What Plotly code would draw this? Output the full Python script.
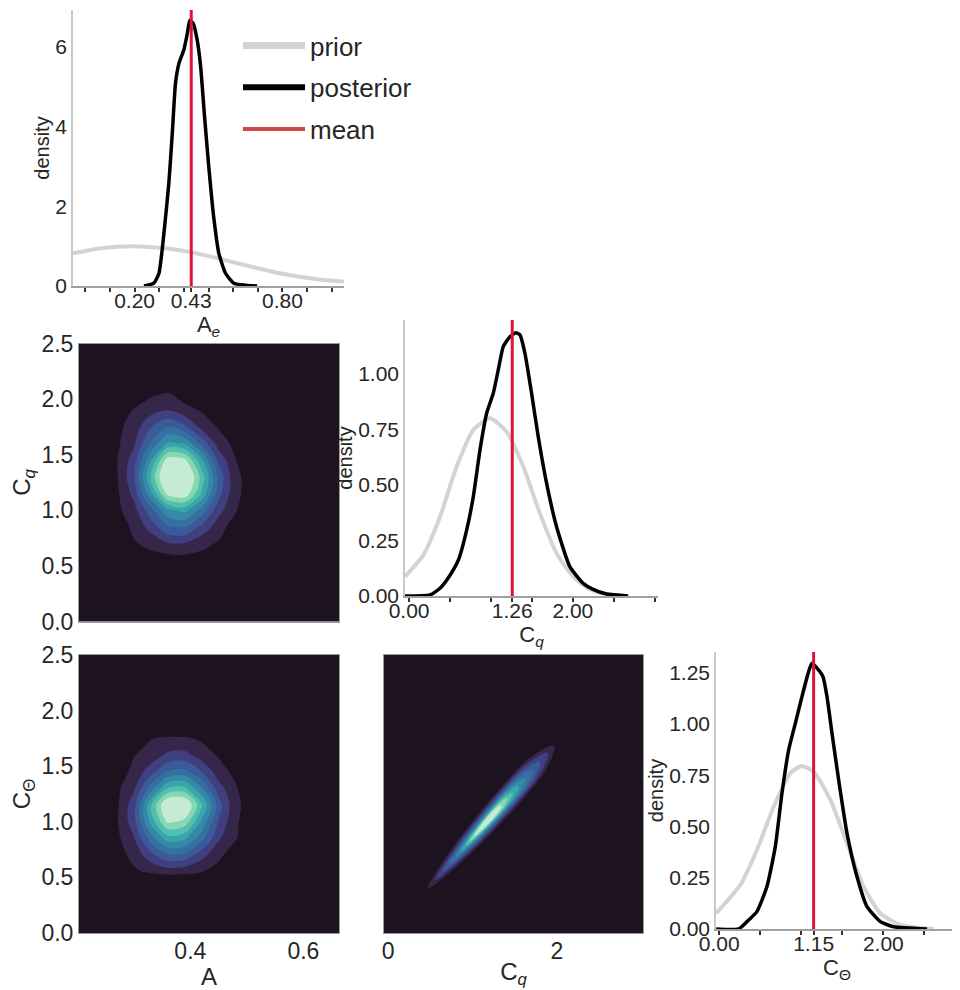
import plotly.graph_objects as go

# ---------------- data ----------------
# A_e marginal
ae_post_x = [0.238, 0.278, 0.299, 0.319, 0.339, 0.353, 0.366, 0.380, 0.400, 0.414, 0.424, 0.438,
             0.454, 0.468, 0.484, 0.501, 0.521, 0.542, 0.569, 0.603, 0.697]
ae_post_y = [0.0, 0.07, 0.32, 1.32, 2.58, 3.83, 5.09, 5.59, 5.93, 6.34, 6.67, 6.59,
             6.18, 5.51, 4.25, 3.00, 1.74, 0.82, 0.32, 0.07, 0.0]
ae_prior_x = [-0.05, 0.062, 0.197, 0.333, 0.427, 0.535, 0.670, 0.805, 0.941, 1.05]
ae_prior_y = [0.82, 0.95, 1.00, 0.94, 0.85, 0.70, 0.49, 0.30, 0.17, 0.11]
ae_mean = 0.43

# C_q marginal
cq_post_x = [-0.05, 0.256, 0.378, 0.488, 0.602, 0.703, 0.784, 0.866, 0.947, 1.028, 1.089, 1.150,
             1.232, 1.305, 1.354, 1.415, 1.496, 1.577, 1.679, 1.801, 1.963, 2.126, 2.248, 2.411, 2.675]
cq_post_y = [0.0, 0.005, 0.035, 0.087, 0.162, 0.297, 0.447, 0.658, 0.823, 0.913, 1.018, 1.123,
             1.168, 1.186, 1.176, 1.093, 0.913, 0.718, 0.508, 0.312, 0.132, 0.057, 0.030, 0.009, 0.0]
cq_prior_x = [-0.05, 0.175, 0.378, 0.581, 0.784, 0.988, 1.191, 1.394, 1.598, 1.801, 2.004, 2.207, 2.411, 2.675]
cq_prior_y = [0.087, 0.185, 0.357, 0.583, 0.748, 0.80, 0.740, 0.583, 0.372, 0.192, 0.087, 0.030, 0.008, 0.0]
cq_mean = 1.26

# C_Theta marginal
ct_post_x = [-0.037, 0.236, 0.337, 0.459, 0.581, 0.683, 0.764, 0.846, 0.927, 1.008, 1.089, 1.130,
             1.191, 1.264, 1.313, 1.374, 1.455, 1.557, 1.679, 1.801, 1.963, 2.126, 2.533]
ct_post_y = [0.0, 0.0, 0.036, 0.085, 0.207, 0.402, 0.662, 0.874, 1.004, 1.134, 1.256, 1.297,
             1.273, 1.232, 1.134, 0.955, 0.728, 0.467, 0.255, 0.109, 0.036, 0.011, 0.0]
ct_prior_x = [-0.037, 0.256, 0.459, 0.663, 0.866, 1.0, 1.150, 1.354, 1.557, 1.760, 1.963, 2.207, 2.614]
ct_prior_y = [0.077, 0.215, 0.386, 0.597, 0.760, 0.796, 0.768, 0.630, 0.418, 0.207, 0.077, 0.02, 0.0]
ct_mean = 1.15

# tick labels
ae_tickvals = [0.2, 0.43, 0.8]
ae_ticktext = ["0.20", "0.43", "0.80"]
cq_tickvals = [0.0, 1.26, 2.0]
cq_ticktext = ["0.00", "1.26", "2.00"]
ct_tickvals = [0.0, 1.15, 2.0]
ct_ticktext = ["0.00", "1.15", "2.00"]
box_ytickvals = [0.0, 0.5, 1.0, 1.5, 2.0, 2.5]
box_yticktext = ["0.0", "0.5", "1.0", "1.5", "2.0", "2.5"]

# 2D density level estimates (A vs C_q), rows follow y
kde_a_x = [0.24, 0.27, 0.30, 0.33, 0.36, 0.39, 0.42, 0.45, 0.48, 0.51, 0.54]
kde_cq_y = [0.40, 0.55, 0.70, 0.85, 1.00, 1.15, 1.30, 1.45, 1.60, 1.75, 1.90, 2.05, 2.20]
kde_a_cq = [
    [-4.0, -3.0, -2.0, -1.5, -1.2, -1.1, -1.2, -1.6, -2.5, -3.5, -5.0],
    [-2.5, -1.2, 0.0, 0.6, 0.45, 0.55, 0.65, 0.2, -0.8, -2.0, -3.5],
    [-2.0, -0.5, 0.9, 1.25, 1.9, 1.9, 1.25, 0.9, -0.5, -2.0, -3.5],
    [-0.7, 0.3, 1.25, 2.4, 3.85, 4.05, 2.75, 1.45, 0.5, -0.6, -1.6],
    [-0.1, 0.75, 1.6, 3.65, 5.8, 6.3, 4.6, 2.35, 1.1, 0.0, -1.2],
    [-0.7, 0.8, 2.3, 5.8, 9.4, 9.8, 6.9, 3.4, 1.2, 0.6, 0.1],
    [-1.0, 0.9, 2.8, 7.1, 10.8, 10.8, 7.6, 3.7, 1.2, 0.6, -0.1],
    [-0.6, 0.95, 2.5, 5.9, 9.6, 9.3, 6.2, 2.75, 1.05, -0.5, -2.2],
    [-0.25, 0.8, 1.85, 4.15, 6.2, 5.9, 3.7, 1.55, 0.7, -0.15, -1.0],
    [-0.3, 0.75, 1.4, 2.95, 4.0, 3.25, 1.7, 0.9, -0.2, -1.2, -2.2],
    [0.0, 0.5, 1.07, 1.6, 2.0, 1.35, 0.9, 0.45, -0.2, -1.0, -2.0],
    [-1.5, -0.5, 0.3, 0.8, 1.1, 0.5, -0.2, -0.8, -1.5, -2.5, -3.5],
    [-3.5, -2.5, -1.8, -1.2, -1.0, -1.2, -1.8, -2.5, -3.5, -4.5, -5.5],
]

# 2D density level estimates (A vs C_Theta)
kde_ct_y = [0.25, 0.40, 0.55, 0.70, 0.85, 1.00, 1.15, 1.30, 1.45, 1.60, 1.75, 1.90, 2.05]
kde_a_ct = [
    [-5.0, -4.5, -4.0, -3.5, -3.0, -3.0, -3.5, -4.0, -4.5, -5.0, -6.0],
    [-3.0, -2.2, -1.6, -1.2, -1.0, -1.0, -1.2, -1.6, -2.2, -3.0, -4.0],
    [-0.6, 0.2, 0.85, 1.15, 1.4, 1.3, 1.03, 0.6, -0.2, -1.0, -2.0],
    [-0.5, 0.55, 1.3, 2.65, 3.85, 3.7, 2.35, 1.25, 0.4, -0.6, -1.6],
    [-0.4, 0.75, 1.9, 4.5, 6.5, 6.2, 4.35, 2.15, 1.1, 0.05, -1.1],
    [-0.8, 0.9, 2.6, 6.3, 9.2, 8.7, 5.8, 2.9, 1.1, 0.6, -0.2],
    [-1.0, 0.8, 2.6, 6.9, 10.4, 10.3, 7.2, 3.5, 1.2, 0.6, 0.0],
    [-0.35, 0.75, 1.85, 4.5, 7.1, 7.3, 5.1, 2.45, 1.15, -0.1, -1.5],
    [-0.6, 0.35, 1.3, 2.55, 4.1, 4.35, 3.0, 1.45, 0.7, -0.3, -1.5],
    [-0.4, 0.4, 0.95, 1.4, 2.2, 2.3, 1.5, 0.9, 0.3, -0.5, -1.5],
    [-0.8, 0.0, 0.5, 0.95, 1.2, 1.15, 0.85, 0.5, 0.0, -0.8, -1.8],
    [-2.0, -1.5, -1.2, -1.0, -0.8, -0.8, -1.0, -1.3, -1.8, -2.5, -3.5],
    [-4.0, -3.5, -3.0, -2.7, -2.5, -2.5, -2.7, -3.0, -3.5, -4.2, -5.0],
]

# C_q vs C_Theta density level outlines (outer -> inner)
cq_ct_level_x = [
    [0.473, 0.835, 1.242, 1.623, 1.870, 1.964, 1.700, 1.411, 1.046, 0.707, 0.473],
    [0.563, 0.881, 1.241, 1.580, 1.801, 1.890, 1.659, 1.403, 1.078, 0.775, 0.563],
    [0.652, 0.927, 1.238, 1.531, 1.722, 1.800, 1.602, 1.381, 1.100, 0.836, 0.652],
    [0.727, 0.962, 1.228, 1.479, 1.643, 1.711, 1.542, 1.352, 1.111, 0.885, 0.727],
    [0.801, 0.997, 1.219, 1.428, 1.565, 1.621, 1.480, 1.322, 1.121, 0.933, 0.801],
    [0.861, 1.024, 1.210, 1.385, 1.500, 1.547, 1.429, 1.297, 1.129, 0.971, 0.861],
    [0.920, 1.052, 1.201, 1.342, 1.434, 1.472, 1.378, 1.271, 1.136, 1.009, 0.920],
    [0.965, 1.072, 1.192, 1.306, 1.381, 1.412, 1.336, 1.250, 1.140, 1.038, 0.965],
    [1.025, 1.100, 1.185, 1.265, 1.317, 1.338, 1.283, 1.223, 1.146, 1.075, 1.025],
]
cq_ct_level_y = [
    [0.405, 0.617, 0.914, 1.228, 1.472, 1.682, 1.586, 1.371, 1.046, 0.703, 0.405],
    [0.482, 0.673, 0.938, 1.218, 1.434, 1.618, 1.529, 1.337, 1.048, 0.745, 0.482],
    [0.558, 0.725, 0.954, 1.196, 1.383, 1.542, 1.464, 1.297, 1.047, 0.785, 0.558],
    [0.622, 0.765, 0.962, 1.169, 1.330, 1.465, 1.398, 1.255, 1.041, 0.816, 0.622],
    [0.686, 0.805, 0.969, 1.142, 1.275, 1.388, 1.333, 1.213, 1.035, 0.848, 0.686],
    [0.737, 0.837, 0.974, 1.118, 1.230, 1.324, 1.278, 1.178, 1.029, 0.872, 0.737],
    [0.788, 0.868, 0.979, 1.095, 1.185, 1.261, 1.223, 1.143, 1.023, 0.897, 0.788],
    [0.826, 0.892, 0.981, 1.076, 1.148, 1.210, 1.179, 1.114, 1.016, 0.914, 0.826],
    [0.878, 0.923, 0.985, 1.051, 1.102, 1.146, 1.125, 1.080, 1.011, 0.940, 0.878],
]

# ---------------- styling ----------------
band_colors = ["#1d1320", "#35264a", "#403f80", "#3a5a9a", "#3571a0",
               "#348aa6", "#3aa5aa", "#53c0ae", "#87d8b2", "#c6ebd4"]
PRIOR_C = "#d3d3d3"
POST_C = "#000000"
MEAN_C = "#dc143c"
FONT = "Liberation Sans, Arial, sans-serif"
TXT = "#262626"

fig = go.Figure()

def diag(xa, ya, px, py, qx, qy):
    fig.add_trace(go.Scatter(x=qx, y=qy, mode="lines", xaxis=xa, yaxis=ya, showlegend=False,
                             line=dict(color=PRIOR_C, width=4, shape="spline", smoothing=0.6),
                             hoverinfo="skip"))
    fig.add_trace(go.Scatter(x=px, y=py, mode="lines", xaxis=xa, yaxis=ya, showlegend=False,
                             line=dict(color=POST_C, width=3.5, shape="spline", smoothing=0.5),
                             hoverinfo="skip"))

diag("x", "y", ae_post_x, ae_post_y, ae_prior_x, ae_prior_y)
diag("x3", "y3", cq_post_x, cq_post_y, cq_prior_x, cq_prior_y)
diag("x6", "y6", ct_post_x, ct_post_y, ct_prior_x, ct_prior_y)

for xr, m in (("x", ae_mean), ("x3", cq_mean), ("x6", ct_mean)):
    yr = "y" + xr[1:]
    fig.add_shape(type="line", xref=xr, yref=yr + " domain", x0=m, x1=m, y0=0, y1=1,
                  line=dict(color=MEAN_C, width=3))

# legend entries
for nm, col, wd in (("prior", PRIOR_C, 7), ("posterior", POST_C, 6), ("mean", "#c94a4a", 4)):
    fig.add_trace(go.Scatter(x=[None], y=[None], mode="lines", name=nm, legendgroup=nm,
                             line=dict(color=col, width=wd), xaxis="x", yaxis="y"))

cscale = [[k / 9.0, c] for k, c in enumerate(band_colors)]
for xa, ya, yy, zz in (("x2", "y2", kde_cq_y, kde_a_cq), ("x4", "y4", kde_ct_y, kde_a_ct)):
    fig.add_trace(go.Contour(x=kde_a_x, y=yy, z=zz, xaxis=xa, yaxis=ya, showscale=False,
                             colorscale=cscale, autocontour=False,
                             contours=dict(start=1, end=9, size=1, coloring="fill", showlines=False),
                             line=dict(width=0, smoothing=0.9), hoverinfo="skip"))

for k in range(len(cq_ct_level_x)):
    fig.add_trace(go.Scatter(x=cq_ct_level_x[k], y=cq_ct_level_y[k], mode="lines", fill="toself",
                             fillcolor=band_colors[k + 1], xaxis="x5", yaxis="y5", showlegend=False,
                             line=dict(color=band_colors[k + 1], width=0.5, shape="spline", smoothing=1.0),
                             hoverinfo="skip"))

for ax in ("x2", "x4", "x5"):
    fig.add_shape(type="rect", xref=ax + " domain", yref="y" + ax[1:] + " domain",
                  x0=0, x1=1, y0=0, y1=1, fillcolor=band_colors[0], line=dict(width=0), layer="below")

# page body adds an 8px offset; the figure fills the rest of the 960x990 window
OFF = 8.0
W, H = 960.0 - OFF, 990.0 - OFF
def dx(a, b):
    return [(a - OFF) / W, (b - OFF) / W]
def dy(top, bottom):
    return [1 - (bottom - OFF) / H, 1 - (top - OFF) / H]

tickfont_d = dict(size=21, color=TXT, family=FONT)
tickfont_2 = dict(size=23, color=TXT, family=FONT)
tfont_d = dict(size=20, color=TXT, family=FONT)
tfont_dx = dict(size=22, color=TXT, family=FONT)
tfont_2 = dict(size=24, color=TXT, family=FONT)

diag_x = dict(showline=True, linecolor="#a0a0a0", linewidth=1.5, ticks="outside", ticklen=4,
              tickwidth=1.5, tickcolor="#333333", showgrid=False, zeroline=False, tickfont=tickfont_d,
              tickmode="array", automargin=False, ticklabelstandoff=-9)
diag_y = dict(showline=True, linecolor="#c8c8c8", linewidth=1.5, ticks="", showgrid=False,
              zeroline=False, tickfont=tickfont_d, tickmode="array", automargin=False)
box_x = dict(showline=True, mirror=True, linecolor="#9a9a9a", linewidth=1, ticks="", showgrid=False,
             zeroline=False, tickfont=tickfont_2, automargin=False, ticklabelstandoff=-3)
box_y = dict(showline=True, mirror=True, linecolor="#9a9a9a", linewidth=1, ticks="", showgrid=False,
             zeroline=False, tickfont=tickfont_2, automargin=False)

def minor(step):
    return dict(ticks="outside", ticklen=4, tickwidth=1.5, tickcolor="#333333", dtick=step, tick0=0,
                showgrid=False)

fig.update_layout(
    width=int(W), height=int(H), margin=dict(l=0, r=0, t=0, b=0, autoexpand=False),
    paper_bgcolor="white", plot_bgcolor="white",
    font=dict(family=FONT, color=TXT),
    showlegend=True,
    legend=dict(x=(238 - OFF) / W, y=1 - (22 - OFF) / H, xanchor="left", yanchor="top",
                bgcolor="rgba(0,0,0,0)", font=dict(size=26, color=TXT, family=FONT),
                itemwidth=62, tracegroupgap=5),
    xaxis=dict(domain=dx(73, 344), anchor="y", range=[-0.05, 1.05], tickvals=ae_tickvals,
               ticktext=ae_ticktext, minor=minor(0.1),
               title=dict(text="A<sub><i>e</i></sub>", font=tfont_dx, standoff=0), **diag_x),
    yaxis=dict(domain=dy(10, 286), anchor="x", range=[0, 6.93], tickvals=[0, 2, 4, 6],
               ticktext=["0", "2", "4", "6"], title=dict(text="density", font=tfont_d, standoff=0), **diag_y),
    xaxis2=dict(domain=dx(79, 339), anchor="y2", range=[0.203, 0.663], showticklabels=False, **box_x),
    yaxis2=dict(domain=dy(343.5, 621.5), anchor="x2", range=[0, 2.5], tickvals=box_ytickvals,
                ticktext=box_yticktext,
                title=dict(text="C<sub><i>q</i></sub>", font=tfont_2, standoff=6), **box_y),
    xaxis3=dict(domain=dx(405, 658), anchor="y3", range=[-0.05, 3.04], tickvals=cq_tickvals,
                ticktext=cq_ticktext, minor=minor(0.5),
                title=dict(text="C<sub><i>q</i></sub>", font=tfont_dx, standoff=0), **diag_x),
    yaxis3=dict(domain=dy(320, 596), anchor="x3", range=[0, 1.243], tickvals=[0, 0.25, 0.5, 0.75, 1.0],
                ticktext=["0.00", "0.25", "0.50", "0.75", "1.00"],
                title=dict(text="density", font=tfont_d, standoff=0), **diag_y),
    xaxis4=dict(domain=dx(79, 339), anchor="y4", range=[0.203, 0.663], tickvals=[0.4, 0.6],
                ticktext=["0.4", "0.6"], title=dict(text="A", font=tfont_2, standoff=0), **box_x),
    yaxis4=dict(domain=dy(655, 933), anchor="x4", range=[0, 2.5], tickvals=box_ytickvals,
                ticktext=box_yticktext,
                title=dict(text="C<sub>Θ</sub>", font=tfont_2, standoff=6), **box_y),
    xaxis5=dict(domain=dx(384, 643), anchor="y5", range=[-0.05, 3.02], tickvals=[0, 2],
                ticktext=["0", "2"], title=dict(text="C<sub><i>q</i></sub>", font=tfont_2, standoff=0), **box_x),
    yaxis5=dict(domain=dy(655, 933), anchor="x5", range=[0, 2.5], showticklabels=False, **box_y),
    xaxis6=dict(domain=dx(716, 958), anchor="y6", range=[-0.04, 2.91], tickvals=ct_tickvals,
                ticktext=ct_ticktext, minor=minor(0.5),
                title=dict(text="C<sub>Θ</sub>", font=tfont_dx, standoff=0), **diag_x),
    yaxis6=dict(domain=dy(652, 929), anchor="x6", range=[0, 1.352],
                tickvals=[0, 0.25, 0.5, 0.75, 1.0, 1.25],
                ticktext=["0.00", "0.25", "0.50", "0.75", "1.00", "1.25"],
                title=dict(text="density", font=tfont_d, standoff=0), **diag_y),
)

fig.write_html("out.html")
